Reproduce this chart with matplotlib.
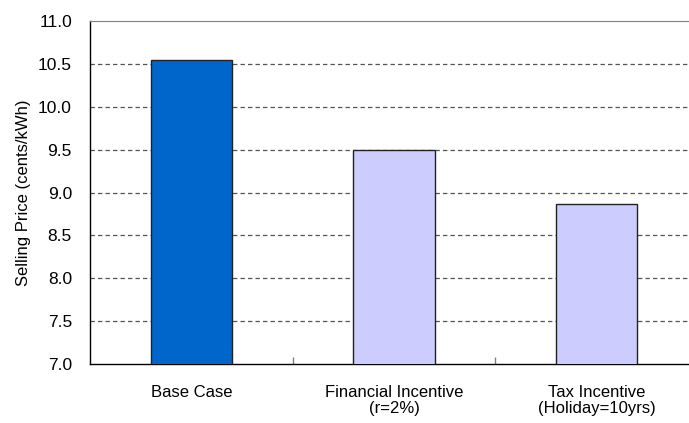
import matplotlib.pyplot as plt

plt.rcParams['font.family'] = ['Liberation Sans', 'DejaVu Sans']

# values
categories = ["Base Case", "Financial Incentive\n(r=2%)", "Tax Incentive\n(Holiday=10yrs)"]
prices = [10.54, 9.49, 8.87]
bar_colors = ["#0066CC", "#CCCCFF", "#CCCCFF"]
yticks = [7.0, 7.5, 8.0, 8.5, 9.0, 9.5, 10.0, 10.5, 11.0]

fig = plt.figure(figsize=(6.89, 4.23), dpi=100)
# plot area runs a bit past the right edge of the image, as in the original
ax = fig.add_axes([90 / 689, 59 / 423, 608 / 689, 343 / 423])

x = range(len(categories))
ax.bar(x, prices, width=0.4, color=bar_colors, edgecolor="#222222", linewidth=1.0, zorder=3)

ax.set_xlim(-0.5, len(categories) - 0.5)
ax.set_ylim(7.0, 11.0)
ax.set_yticks(yticks)
ax.set_yticklabels(["%.1f" % v for v in yticks], fontsize=12.5)
ax.tick_params(axis="y", length=0, pad=13)

# category names centred, small tick marks between categories
ax.set_xticks(list(x))
ax.set_xticklabels(categories, fontsize=12, linespacing=1.12)
ax.tick_params(axis="x", which="major", length=0, pad=15)
ax.set_xticks([0.5, 1.5], minor=True)
ax.tick_params(axis="x", which="minor", direction="in", length=5, width=1, color="#808080")

ax.set_ylabel("Selling Price (cents/kWh)", fontsize=12, labelpad=5)

# dashed grid behind the bars
for v in yticks[1:-1]:
    ax.axhline(v, color="#555555", linestyle=(0, (3.5, 2.5)), linewidth=0.9, zorder=1)

ax.spines["top"].set_color("#808080")
ax.spines["right"].set_visible(False)
ax.spines["left"].set_color("black")
ax.spines["bottom"].set_color("black")
ax.spines["left"].set_linewidth(1.0)
ax.spines["bottom"].set_linewidth(1.0)

fig.savefig("out.png", dpi=100)
